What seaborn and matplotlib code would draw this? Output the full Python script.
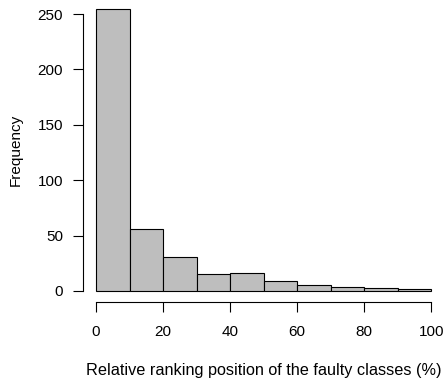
import numpy as np
import matplotlib
matplotlib.use('Agg')
import matplotlib.pyplot as plt
import seaborn as sns

# histogram bins (relative ranking %, 10-wide) and their counts
bin_edges = [0, 10, 20, 30, 40, 50, 60, 70, 80, 90, 100]
counts = [255, 56, 31, 15, 16, 9, 5, 4, 3, 2]
x_ticks = [0, 20, 40, 60, 80, 100]
y_ticks = [0, 50, 100, 150, 200, 250]

sns.set_style('ticks')
plt.rcParams['font.family'] = ['Liberation Sans', 'DejaVu Sans']
plt.rcParams['text.color'] = 'black'
plt.rcParams['xtick.color'] = 'black'
plt.rcParams['ytick.color'] = 'black'
plt.rcParams['axes.labelcolor'] = 'black'

fig = plt.figure(figsize=(4.45, 3.81), dpi=100)
ax = fig.add_axes([0.1856, 0.2066, 0.814, 0.8007])

mids = np.array(bin_edges[:-1]) + 5
sns.histplot(x=mids, weights=counts, bins=bin_edges, color='#BEBEBE',
             edgecolor='black', linewidth=0.8, alpha=1, ax=ax)

ax.set_xlim(-4, 104)
ax.set_ylim(-10.2, 265.2)
ax.set_xticks(x_ticks)
ax.set_yticks(y_ticks)
ax.spines['top'].set_visible(False)
ax.spines['right'].set_visible(False)
ax.spines['left'].set_bounds(0, 250)
ax.spines['bottom'].set_bounds(0, 100)
for s in ['left', 'bottom']:
    ax.spines[s].set_linewidth(0.8)
    ax.spines[s].set_color('black')
ax.tick_params(axis='x', length=7, width=0.8, pad=9.5, labelsize=11)
ax.tick_params(axis='y', length=7, width=0.8, pad=7, labelsize=11)

ax.set_xlabel('Relative ranking position of the faulty classes (%)', fontsize=11.7, labelpad=17)
ax.set_ylabel('Frequency', fontsize=11, labelpad=11)

fig.savefig('out.png', dpi=100)
